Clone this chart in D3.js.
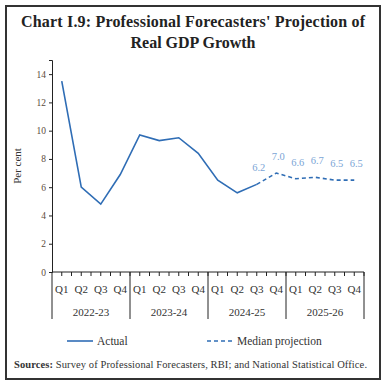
<!DOCTYPE html>
<html lang="en">
<head>
    <meta charset="UTF-8">
    <title>Chart I.9</title>
    <style>
        body{margin:0;background:#fff;}
        text{font-family:"Liberation Serif",serif;}
    </style>
</head>
<body>
</body>
<script src="https://cdn.jsdelivr.net/npm/d3@7/dist/d3.min.js"></script>
<script>
    var width=386;
    var height=386;

    var years=['2022-23','2023-24','2024-25','2025-26'];
    var quarters=['Q1','Q2','Q3','Q4'];
    var actual=[13.5,6.0,4.8,6.9,9.7,9.3,9.5,8.4,6.5,5.6,6.2];
    var projection=[null,null,null,null,null,null,null,null,null,null,6.2,7.0,6.6,6.7,6.5,6.5];
    var yTicks=[0,2,4,6,8,10,12,14];

    var categories=[];
    years.forEach(function(y){
        quarters.forEach(function(q){ categories.push(y+' '+q); });
    });

    var margin={left:52,right:22,top:60,bottom:114};
    var lineColor='#2f6db5';
    var labelColor='#7ba5d6';

    var svg=d3.select('body')
            .append('svg')
            .attr('width',width)
            .attr('height',height);

    svg.append('rect')
            .attr('x',6).attr('y',6)
            .attr('width',374).attr('height',373)
            .attr('fill','none')
            .attr('stroke','#333')
            .attr('stroke-width',2);

    svg.append('text')
            .attr('x',193).attr('y',27)
            .attr('text-anchor','middle')
            .attr('font-size','16px')
            .attr('font-weight','bold')
            .attr('fill','#222')
            .attr('textLength',344)
            .text("Chart I.9: Professional Forecasters' Projection of");
    svg.append('text')
            .attr('x',193).attr('y',48)
            .attr('text-anchor','middle')
            .attr('font-size','16px')
            .attr('font-weight','bold')
            .attr('fill','#222')
            .text('Real GDP Growth');

    var x=d3.scaleBand()
            .domain(categories)
            .range([margin.left,width-margin.right]);
    var y=d3.scaleLinear()
            .domain([0,15])
            .range([272,60]);

    // y axis
    var yAxis=d3.axisLeft(y).tickValues(yTicks).tickSize(3).tickFormat(d3.format('d'));
    var gy=svg.append('g')
            .attr('transform','translate('+margin.left+',0)')
            .call(yAxis);
    gy.select('.domain').attr('stroke','#222');
    gy.selectAll('.tick line').attr('stroke','#222');
    gy.selectAll('.tick text')
            .attr('fill','#5b4b3b')
            .attr('font-family','"DejaVu Sans",sans-serif')
            .attr('font-size','9.5px');

    svg.append('text')
            .attr('transform','translate(21,'+y(7.5)+') rotate(-90)')
            .attr('text-anchor','middle')
            .attr('font-size','11px')
            .attr('fill','#333')
            .text('Per cent');

    // x axis
    var y0=y(0);
    svg.append('line')
            .attr('x1',margin.left).attr('x2',width-margin.right)
            .attr('y1',y0).attr('y2',y0)
            .attr('stroke','#222');

    var bw=x.bandwidth();
    var minorTicks=[];
    categories.forEach(function(c){
        minorTicks.push(x(c)+bw/2);
        minorTicks.push(x(c)+bw);
    });
    svg.selectAll('line.minor')
            .data(minorTicks)
            .enter()
            .append('line')
            .attr('class','minor')
            .attr('x1',function(d){return d;})
            .attr('x2',function(d){return d;})
            .attr('y1',y0).attr('y2',y0+4)
            .attr('stroke','#222');

    svg.selectAll('line.year')
            .data([0].concat(years.map(function(yr,i){return i+1;})))
            .enter()
            .append('line')
            .attr('class','year')
            .attr('x1',function(d){return margin.left+d*bw*4;})
            .attr('x2',function(d){return margin.left+d*bw*4;})
            .attr('y1',y0).attr('y2',319)
            .attr('stroke','#222');

    svg.selectAll('text.q')
            .data(categories)
            .enter()
            .append('text')
            .attr('class','q')
            .attr('x',function(d){return x(d)+bw/2;})
            .attr('y',293)
            .attr('text-anchor','middle')
            .attr('font-size','11px')
            .attr('fill','#333')
            .text(function(d){return d.split(' ')[1];});

    svg.selectAll('text.yr')
            .data(years)
            .enter()
            .append('text')
            .attr('class','yr')
            .attr('x',function(d,i){return margin.left+(i+0.5)*bw*4;})
            .attr('y',316)
            .attr('text-anchor','middle')
            .attr('font-size','11px')
            .attr('fill','#333')
            .text(function(d){return d;});

    // lines
    var line=d3.line()
            .defined(function(d){return d!=null;})
            .x(function(d,i){return x(categories[i])+bw/2;})
            .y(function(d){return y(d);});

    svg.append('path')
            .datum(actual)
            .attr('d',line)
            .attr('fill','none')
            .attr('stroke',lineColor)
            .attr('stroke-width',1.6);

    svg.append('path')
            .datum(projection)
            .attr('d',line)
            .attr('fill','none')
            .attr('stroke',lineColor)
            .attr('stroke-width',1.6)
            .attr('stroke-dasharray','4,3');

    svg.selectAll('text.lbl')
            .data(projection.map(function(v,i){return {v:v,i:i};}).filter(function(d){return d.v!=null;}))
            .enter()
            .append('text')
            .attr('class','lbl')
            .attr('x',function(d){return x(categories[d.i])+bw/2+2;})
            .attr('y',function(d){return y(d.v)-13;})
            .attr('text-anchor','middle')
            .attr('font-size','10.5px')
            .attr('font-family','"DejaVu Sans",sans-serif')
            .attr('fill',labelColor)
            .text(function(d){return d.v.toFixed(1);});

    // legend
    var legend=[{name:'Actual',dash:null,x:67},{name:'Median projection',dash:'4,3',x:207}];
    var lg=svg.selectAll('g.legend')
            .data(legend)
            .enter()
            .append('g')
            .attr('transform',function(d){return 'translate('+d.x+',341)';});
    lg.append('line')
            .attr('x1',0).attr('x2',26)
            .attr('stroke',lineColor)
            .attr('stroke-width',1.6)
            .attr('stroke-dasharray',function(d){return d.dash;});
    lg.append('text')
            .attr('x',30).attr('y',4)
            .attr('font-size','11.5px')
            .attr('fill','#333')
            .text(function(d){return d.name;});

    var src=svg.append('text')
            .attr('x',14).attr('y',368)
            .attr('font-size','10.5px')
            .attr('fill','#333')
            .attr('textLength',353);
    src.append('tspan').attr('font-weight','bold').text('Sources: ');
    src.append('tspan').text('Survey of Professional Forecasters, RBI; and National Statistical Office.');
</script>
</html>
